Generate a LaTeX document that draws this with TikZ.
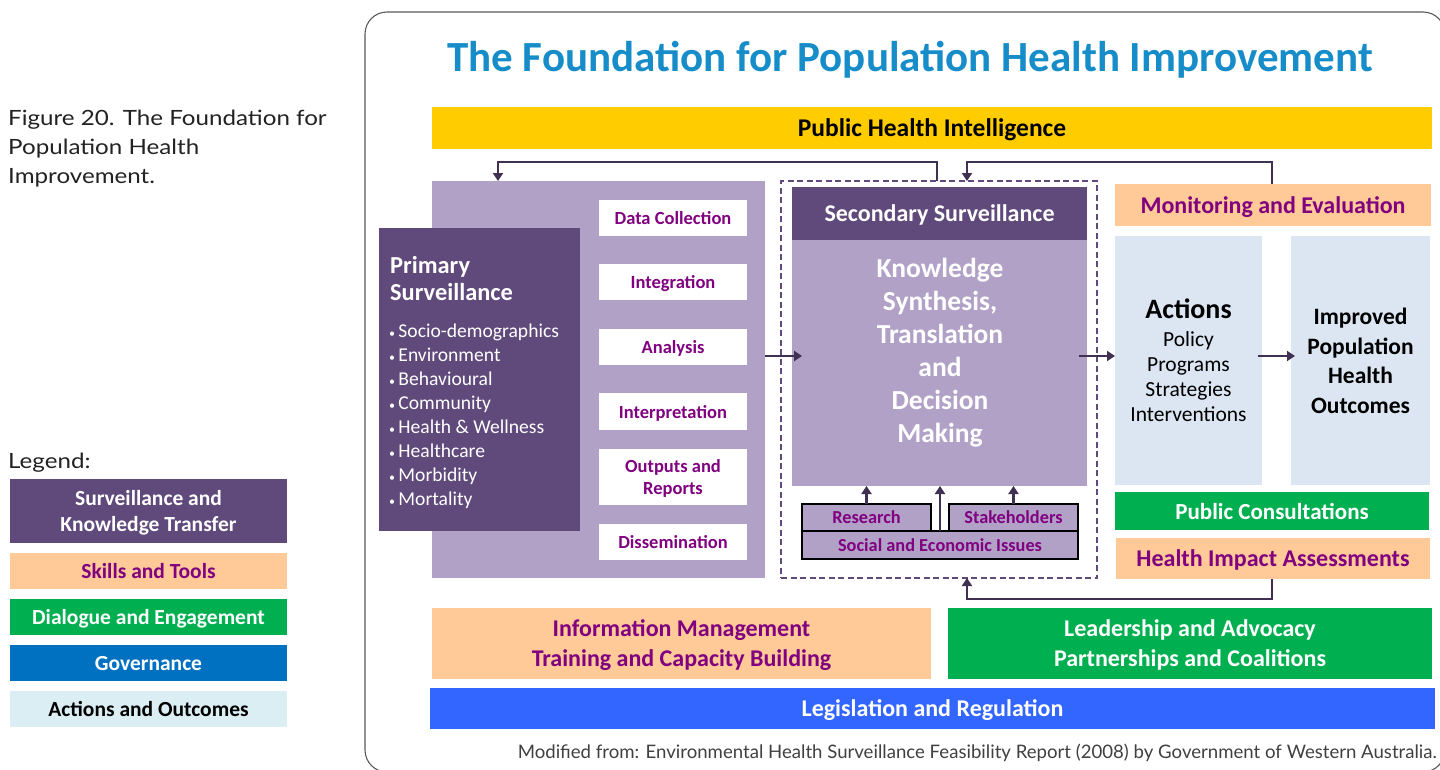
\documentclass[tikz,border=0pt]{standalone}
\usepackage{fontspec}
\setmainfont{Carlito}
\newfontfamily\capfont[FakeStretch=1.15]{Lato}
\newfontfamily\footfont{Lato}
\usetikzlibrary{arrows.meta,calc}
\definecolor{dpurple}{HTML}{604A7B}
\definecolor{lav}{HTML}{B2A1C7}
\definecolor{tpurple}{HTML}{800080}
\definecolor{arrowc}{HTML}{403152}
\definecolor{peach}{HTML}{FFCA97}
\definecolor{mygreen}{HTML}{00B050}
\definecolor{govblue}{HTML}{0070C0}
\definecolor{legblue}{HTML}{3366FF}
\definecolor{myyellow}{HTML}{FFCC00}
\definecolor{lblue}{HTML}{DCE6F2}
\definecolor{llblue}{HTML}{DAEEF3}
\definecolor{titleblue}{HTML}{168CC8}
\definecolor{captxt}{HTML}{222222}
\newcommand\fsz[2]{\fontsize{#1}{#2}\selectfont}
\begin{document}
\begin{tikzpicture}[x=1pt,y=-1pt,
  blk/.style n args={2}{anchor=north west, inner sep=0pt, outer sep=0pt, align=center,
     minimum width=#1pt, minimum height=#2pt, text depth=0pt},
  arr/.style={draw=arrowc, line width=2.6pt, -{Triangle[length=8pt,width=10pt]}},
  wbox/.style={fill=white, text=tpurple, font=\fsz{18.5}{22}\bfseries},
  sbox/.style={fill=lav, draw=black, line width=1.2pt, text=tpurple, font=\fsz{18.3}{20}\bfseries},
  lgd/.style={font=\fsz{21.5}{26}\bfseries}]
\useasboundingbox (0,0) rectangle (1440,769);
% frame
\draw[draw=black!65, line width=1.1pt, rounded corners=22pt] (365,12) rectangle (1445,772);
% caption and legend
\node[anchor=north west, align=left, inner sep=0pt, text=captxt, font=\capfont\fsz{21}{29}] (cap) at (8,110) {Figure 20. The Foundation for\\Population Health\\Improvement.};
\node[anchor=west, inner sep=0pt, text=captxt, font=\capfont\fsz{21}{29}] (legt) at (8,463) {Legend:};
\node[blk={277}{64}, fill=dpurple, text=white, lgd] (lg1) at (10,479) {Surveillance and\\Knowledge Transfer};
\node[blk={277}{36}, fill=peach, text=tpurple, lgd] (lg2) at (10,553) {Skills and Tools};
\node[blk={277}{36}, fill=mygreen, text=white, lgd] (lg3) at (10,599) {Dialogue and Engagement};
\node[blk={277}{36}, fill=govblue, text=white, lgd] (lg4) at (10,645) {Governance};
\node[blk={277}{36}, fill=llblue, text=black, lgd] (lg5) at (10,691) {Actions and Outcomes};
% title
\node[text=titleblue, font=\fsz{43}{46}\bfseries, inner sep=0pt] (title) at (910,60) {The Foundation for Population Health Improvement};
\node[blk={1000}{42}, fill=myyellow, font=\fsz{25.5}{28}\bfseries] (phi) at (432,107) {Public Health Intelligence};
% primary
\node[blk={333}{397}, fill=lav] (lav) at (432,181) {};
\node[blk={201}{303}, fill=dpurple] (prim) at (379,228) {};
\node[anchor=west, align=left, inner sep=0pt, text=white, font=\fsz{24.4}{27}\bfseries] (primt) at (390,279) {Primary\\Surveillance};
\node[anchor=west, align=left, inner sep=0pt, text=white, font=\fsz{19.6}{24}] (priml) at (389,416) {{\fsz{12}{24}•}\,Socio-demographics\\{\fsz{12}{24}•}\,Environment\\{\fsz{12}{24}•}\,Behavioural\\{\fsz{12}{24}•}\,Community\\{\fsz{12}{24}•}\,Health \& Wellness\\{\fsz{12}{24}•}\,Healthcare\\{\fsz{12}{24}•}\,Morbidity\\{\fsz{12}{24}•}\,Mortality};
\node[blk={148}{36}, wbox] (dc) at (599,200) {Data Collection};
\node[blk={148}{36}, wbox] (integ) at (599,264) {Integration};
\node[blk={148}{36}, wbox] (anal) at (599,329) {Analysis};
\node[blk={148}{37}, wbox] (interp) at (599,393) {Interpretation};
\node[blk={148}{56}, wbox] (outp) at (599,449) {Outputs and\\Reports};
\node[blk={148}{36}, wbox] (diss) at (599,524) {Dissemination};
% secondary
\node[blk={316}{397}, draw=dpurple, line width=1.5pt, dash pattern=on 6pt off 3.5pt] (dash) at (781,181) {};
\node[blk={295}{53}, fill=dpurple, text=white, font=\fsz{24}{26}\bfseries] (sec) at (792,187) {Secondary Surveillance};
\node[blk={295}{246}, fill=lav] (know) at (792,240) {};
\node[align=center, inner sep=0pt, text=white, font=\fsz{27.5}{33}\bfseries] (knowt) at (940,353) {Knowledge\\Synthesis,\\Translation\\and\\Decision\\Making};
\node[blk={129}{27}, sbox] (res) at (802,504) {Research};
\node[blk={129}{27}, sbox] (stake) at (949,504) {Stakeholders};
\node[blk={276}{28}, sbox] (soc) at (802,531) {Social and Economic Issues};
% right side
\node[blk={316}{42}, fill=peach, text=tpurple, font=\fsz{24}{26}\bfseries] (mon) at (1115,184) {Monitoring and Evaluation};
\node[blk={147}{249}, fill=lblue] (act) at (1115,236) {};
\node[align=center, inner sep=0pt, font=\fsz{21.5}{25}] (actt) at (act.center) {{\fsz{28}{30}\bfseries Actions}\\[3pt]Policy\\Programs\\Strategies\\Interventions};
\node[blk={139}{249}, fill=lblue, font=\fsz{23.5}{29.5}\bfseries] (imp) at (1291,236) {Improved\\Population\\Health\\Outcomes};
\node[blk={314}{38}, fill=mygreen, text=white, font=\fsz{23}{25}\bfseries] (pc) at (1115,492) {Public Consultations};
\node[blk={314}{41}, fill=peach, text=tpurple, font=\fsz{24}{26}\bfseries] (hia) at (1116,538) {Health Impact Assessments};
% bottom
\node[blk={499}{71}, fill=peach, text=tpurple, font=\fsz{24}{30}\bfseries] (im) at (432,608) {Information Management\\Training and Capacity Building};
\node[blk={484}{71}, fill=mygreen, text=white, font=\fsz{24}{30}\bfseries] (lead) at (948,608) {Leadership and Advocacy\\Partnerships and Coalitions};
\node[blk={1005}{41}, fill=legblue, text=white, font=\fsz{24}{26}\bfseries] (legis) at (430,688) {Legislation and Regulation};
\node[anchor=base east, inner sep=0pt, text=black!75, font=\footfont\fsz{18.6}{20}] (foot) at (1437,758) {Modified from: Environmental Health Surveillance Feasibility Report (2008) by Government of Western Australia.};
% connectors
\coordinate (ay) at (0,356);
\draw[arr] (lav.east |- ay) -- ([xshift=10pt]know.west |- ay);
\draw[arr] ([xshift=-8pt]know.east |- ay) -- (act.west |- ay);
\draw[arr] ([xshift=-4pt]act.east |- ay) -- ([xshift=4pt]imp.west |- ay);
\draw[arr] (res.north) -- (know.south -| res.north);
\draw[arr] (soc.north) -- (know.south -| soc.north);
\draw[arr] (stake.north) -- (know.south -| stake.north);
\draw[arr] ([xshift=156pt]dash.north west) -- ++(0,-19) -| ([xshift=66pt]lav.north west);
\draw[arr] ([xshift=157pt]mon.north west) -- ++(0,-22) -| ([xshift=186pt]dash.north west);
\draw[arr] ([xshift=156pt]hia.south west) -- ++(0,20) -| ([xshift=186pt]dash.south west);
\end{tikzpicture}
\end{document}
